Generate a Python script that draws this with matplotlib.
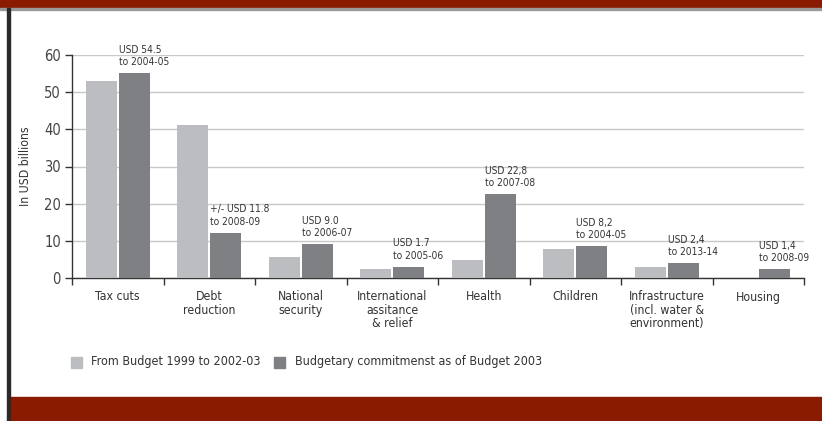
import matplotlib.pyplot as plt
import matplotlib.patches as mpatches
import numpy as np

categories = ['Tax cuts', 'Debt\nreduction', 'National\nsecurity',
              'International\nassitance\n& relief', 'Health', 'Children',
              'Infrastructure\n(incl. water &\nenvironment)', 'Housing']
budget_1999_2003 = [53.0, 41.2, 5.6, 2.3, 4.8, 7.8, 3.0, 0.0]
commitment_2003 = [55.1, 12.2, 9.1, 3.0, 22.6, 8.6, 4.0, 2.3]
notes = ['USD 54.5\nto 2004-05', '+/- USD 11.8\nto 2008-09', 'USD 9.0\nto 2006-07',
         'USD 1.7\nto 2005-06', 'USD 22,8\nto 2007-08', 'USD 8,2\nto 2004-05',
         'USD 2,4\nto 2013-14', 'USD 1,4\nto 2008-09']
legend_labels = ['From Budget 1999 to 2002-03', 'Budgetary commitmenst as of Budget 2003']

LIGHT = '#bcbdc0'
DARK = '#7f8084'
RED = '#8a1b00'
TXT = '#333333'

plt.rcParams['font.family'] = ['DejaVu Sans']
plt.rcParams['font.stretch'] = 'condensed'

W, H = 822, 421
fig = plt.figure(figsize=(W / 100, H / 100), dpi=100)

# frame decoration: top banner, left border, bottom band
fig.patches.append(mpatches.Rectangle((0, 1 - 8 / H), 1, 8 / H, transform=fig.transFigure,
                                      color=RED, zorder=0))
fig.patches.append(mpatches.Rectangle((0, 1 - 9.5 / H), 1, 1.5 / H, transform=fig.transFigure,
                                      color='#9a9a9a', zorder=0))
fig.patches.append(mpatches.Rectangle((10 / W, 0), 1, 24 / H, transform=fig.transFigure,
                                      color=RED, zorder=0))
fig.patches.append(mpatches.Rectangle((7 / W, 0), 3 / W, 1 - 8 / H, transform=fig.transFigure,
                                      color='#2a2a2a', zorder=0))

ax = fig.add_axes([72 / W, (H - 278) / H, 732 / W, 223 / H])

x = np.arange(len(categories))
bw = 0.34
off = 0.18
ax.bar(x - off, budget_1999_2003, bw, color=LIGHT, zorder=3)
bars = ax.bar(x + off, commitment_2003, bw, color=DARK, zorder=3)

for b, txt in zip(bars, notes):
    ax.annotate(txt, (b.get_x(), b.get_height()), xytext=(0, 6),
                textcoords='offset pixels', ha='left', va='bottom',
                fontsize=7.3, color=TXT, linespacing=1.3, annotation_clip=False)

ax.set_xlim(-0.5, len(categories) - 0.5)
ax.set_ylim(0, 60)
ax.set_yticks(np.arange(0, 61, 10))
ax.yaxis.grid(True, color='#c8c8c8', linewidth=1, zorder=0)
ax.set_axisbelow(True)

ax.set_xticks(np.arange(-0.5, len(categories), 1))
ax.set_xticklabels([])
ax.set_xticks(x, minor=True)
ax.set_xticklabels(categories, minor=True, fontsize=8.8, color=TXT, linespacing=1.02,
                   va='top', ha='center', multialignment='center')
ax.tick_params(axis='x', which='major', length=5, width=1, color='#333333', direction='out')
ax.tick_params(axis='x', which='minor', length=0, pad=9)
ax.tick_params(axis='y', length=5, width=1, color='#333333', labelsize=10.5,
               labelcolor='#444444', pad=3)

for s in ['top', 'right']:
    ax.spines[s].set_visible(False)
for s in ['left', 'bottom']:
    ax.spines[s].set_color('#333333')
    ax.spines[s].set_linewidth(1)

ax.set_ylabel('In USD billions', fontsize=8.8, color=TXT, labelpad=9)

# legend drawn as squares + text in figure pixels
ly = (H - 362) / H
fig.patches.append(mpatches.Rectangle((71 / W, ly - 5.5 / H), 11 / W, 11 / H,
                                      transform=fig.transFigure, color=LIGHT))
fig.text(91 / W, ly, legend_labels[0], fontsize=9, color=TXT, va='center', ha='left')
fig.patches.append(mpatches.Rectangle((274 / W, ly - 5.5 / H), 11 / W, 11 / H,
                                      transform=fig.transFigure, color=DARK))
fig.text(295 / W, ly, legend_labels[1], fontsize=9, color=TXT, va='center', ha='left')

fig.savefig('out.png', dpi=100)
